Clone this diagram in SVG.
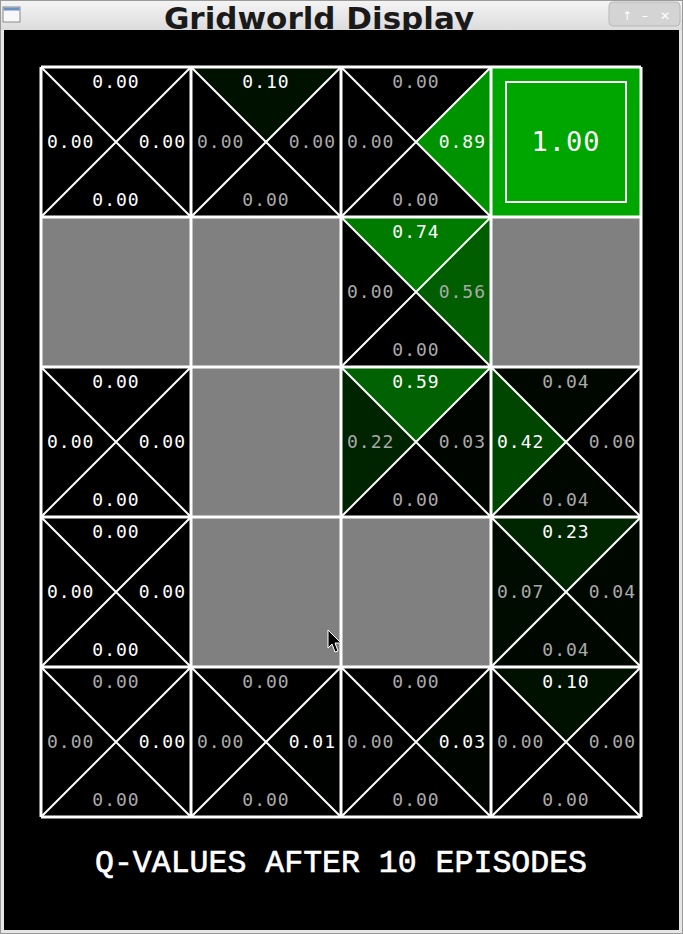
<svg xmlns="http://www.w3.org/2000/svg" width="683" height="934" viewBox="0 0 683 934">
<defs>
<linearGradient id="tb" x1="0" y1="0" x2="0" y2="1"><stop offset="0" stop-color="#f4f4f4"/><stop offset="1" stop-color="#dcdcdc"/></linearGradient>
<style>
.q{font-family:"DejaVu Sans Mono","Liberation Mono",monospace;font-size:18px;letter-spacing:1px}
.w{fill:#ffffff}.g{fill:#aaaaaa}
.n,.s{text-anchor:middle}.e{text-anchor:end}
.x{stroke:#ffffff;stroke-width:2;fill:none}
.grid{stroke:#ffffff;stroke-width:3;fill:none}
.wall{fill:#808080}
</style>
</defs>
<!-- window frame -->
<rect x="0" y="0" width="683" height="934" fill="#9a9a9a"/>
<rect x="1" y="1" width="681" height="932" fill="#e6e6e6"/>
<rect x="1" y="1" width="681" height="29" fill="url(#tb)"/>
<rect x="3" y="7" width="17" height="15" fill="#f8f8f8" stroke="#8a8a8a" stroke-width="1"/>
<rect x="3.5" y="7.5" width="16" height="3" fill="#6b8fc0"/>
<rect x="609" y="2" width="71" height="24" rx="4" fill="#d4d4d4" stroke="#b8b8b8"/>
<text x="627" y="20" font-family="DejaVu Sans,sans-serif" font-size="12" fill="#ffffff" text-anchor="middle">↑</text>
<text x="645" y="20" font-family="DejaVu Sans,sans-serif" font-size="12" fill="#ffffff" text-anchor="middle">–</text>
<text x="665" y="20" font-family="DejaVu Sans,sans-serif" font-size="12" fill="#ffffff" text-anchor="middle">✕</text>
<text x="319" y="29" font-family="DejaVu Sans,sans-serif" font-weight="bold" font-size="31" fill="#1a1a1a" text-anchor="middle">Gridworld Display</text>
<rect x="4" y="30" width="675" height="900" fill="#000000"/>

<!-- walls -->
<g id="walls">
<rect class="wall" x="41" y="217" width="150" height="150"/>
<rect class="wall" x="191" y="217" width="150" height="150"/>
<rect class="wall" x="491" y="217" width="150" height="150"/>
<rect class="wall" x="191" y="367" width="150" height="150"/>
<rect class="wall" x="191" y="517" width="150" height="150"/>
<rect class="wall" x="341" y="517" width="150" height="150"/>
</g>

<g id="c00">
<path class="x" d="M41 67L191 217M191 67L41 217"/>
<text class="q w n" x="116" y="88">0.00</text>
<text class="q w" x="47" y="148">0.00</text>
<text class="q w e" x="186" y="148">0.00</text>
<text class="q w s" x="116" y="206">0.00</text>
</g>
<g id="c10">
<polygon points="191,67 341,67 266,142" fill="#001100"/>
<path class="x" d="M191 67L341 217M341 67L191 217"/>
<text class="q w n" x="266" y="88">0.10</text>
<text class="q g" x="197" y="148">0.00</text>
<text class="q g e" x="336" y="148">0.00</text>
<text class="q g s" x="266" y="206">0.00</text>
</g>
<g id="c20">
<polygon points="491,67 491,217 416,142" fill="#009300"/>
<path class="x" d="M341 67L491 217M491 67L341 217"/>
<text class="q g n" x="416" y="88">0.00</text>
<text class="q g" x="347" y="148">0.00</text>
<text class="q w e" x="486" y="148">0.89</text>
<text class="q g s" x="416" y="206">0.00</text>
</g>
<g id="c30">
<rect x="491" y="67" width="150" height="150" fill="#00a600"/>
<rect x="506" y="82" width="120" height="120" fill="none" stroke="#ffffff" stroke-width="2"/>
<text x="566" y="151" font-family="DejaVu Sans Mono,monospace" font-size="27" letter-spacing="1" fill="#ffffff" text-anchor="middle">1.00</text>
</g>
<g id="c21">
<polygon points="341,217 491,217 416,292" fill="#007b00"/>
<polygon points="491,217 491,367 416,292" fill="#005d00"/>
<path class="x" d="M341 217L491 367M491 217L341 367"/>
<text class="q w n" x="416" y="238">0.74</text>
<text class="q g" x="347" y="298">0.00</text>
<text class="q g e" x="486" y="298">0.56</text>
<text class="q g s" x="416" y="356">0.00</text>
</g>
<g id="c02">
<path class="x" d="M41 367L191 517M191 367L41 517"/>
<text class="q w n" x="116" y="388">0.00</text>
<text class="q w" x="47" y="448">0.00</text>
<text class="q w e" x="186" y="448">0.00</text>
<text class="q w s" x="116" y="506">0.00</text>
</g>
<g id="c22">
<polygon points="341,367 491,367 416,442" fill="#006200"/>
<polygon points="341,367 341,517 416,442" fill="#002400"/>
<polygon points="491,367 491,517 416,442" fill="#000500"/>
<path class="x" d="M341 367L491 517M491 367L341 517"/>
<text class="q w n" x="416" y="388">0.59</text>
<text class="q g" x="347" y="448">0.22</text>
<text class="q g e" x="486" y="448">0.03</text>
<text class="q g s" x="416" y="506">0.00</text>
</g>
<g id="c32">
<polygon points="491,367 641,367 566,442" fill="#000700"/>
<polygon points="491,367 491,517 566,442" fill="#004600"/>
<polygon points="491,517 641,517 566,442" fill="#000700"/>
<path class="x" d="M491 367L641 517M641 367L491 517"/>
<text class="q g n" x="566" y="388">0.04</text>
<text class="q w" x="497" y="448">0.42</text>
<text class="q g e" x="636" y="448">0.00</text>
<text class="q g s" x="566" y="506">0.04</text>
</g>
<g id="c03">
<path class="x" d="M41 517L191 667M191 517L41 667"/>
<text class="q w n" x="116" y="538">0.00</text>
<text class="q w" x="47" y="598">0.00</text>
<text class="q w e" x="186" y="598">0.00</text>
<text class="q w s" x="116" y="656">0.00</text>
</g>
<g id="c33">
<polygon points="491,517 641,517 566,592" fill="#002600"/>
<polygon points="491,517 491,667 566,592" fill="#000c00"/>
<polygon points="641,517 641,667 566,592" fill="#000700"/>
<polygon points="491,667 641,667 566,592" fill="#000700"/>
<path class="x" d="M491 517L641 667M641 517L491 667"/>
<text class="q w n" x="566" y="538">0.23</text>
<text class="q g" x="497" y="598">0.07</text>
<text class="q g e" x="636" y="598">0.04</text>
<text class="q g s" x="566" y="656">0.04</text>
</g>
<g id="c04">
<path class="x" d="M41 667L191 817M191 667L41 817"/>
<text class="q g n" x="116" y="688">0.00</text>
<text class="q g" x="47" y="748">0.00</text>
<text class="q w e" x="186" y="748">0.00</text>
<text class="q g s" x="116" y="806">0.00</text>
</g>
<g id="c14">
<polygon points="341,667 341,817 266,742" fill="#000200"/>
<path class="x" d="M191 667L341 817M341 667L191 817"/>
<text class="q g n" x="266" y="688">0.00</text>
<text class="q g" x="197" y="748">0.00</text>
<text class="q w e" x="336" y="748">0.01</text>
<text class="q g s" x="266" y="806">0.00</text>
</g>
<g id="c24">
<polygon points="491,667 491,817 416,742" fill="#000500"/>
<path class="x" d="M341 667L491 817M491 667L341 817"/>
<text class="q g n" x="416" y="688">0.00</text>
<text class="q g" x="347" y="748">0.00</text>
<text class="q w e" x="486" y="748">0.03</text>
<text class="q g s" x="416" y="806">0.00</text>
</g>
<g id="c34">
<polygon points="491,667 641,667 566,742" fill="#001100"/>
<path class="x" d="M491 667L641 817M641 667L491 817"/>
<text class="q w n" x="566" y="688">0.10</text>
<text class="q g" x="497" y="748">0.00</text>
<text class="q g e" x="636" y="748">0.00</text>
<text class="q g s" x="566" y="806">0.00</text>
</g>

<g id="connectors">
<path class="grid" d="M41 67H641M41 217H641M41 367H641M41 517H641M41 667H641M41 817H641M41 67V817M191 67V817M341 67V817M491 67V817M641 67V817"/>
</g>

<text x="341" y="872" font-family="Liberation Mono,Courier New,monospace" font-size="31" textLength="492" lengthAdjust="spacingAndGlyphs" fill="#ffffff" stroke="#ffffff" stroke-width="0.6" text-anchor="middle">Q-VALUES AFTER 10 EPISODES</text>

<polygon points="328,630 328,648 332,644 335,652 338,651 335,643 341,643" fill="#000000" stroke="#ffffff" stroke-width="1"/>
</svg>
